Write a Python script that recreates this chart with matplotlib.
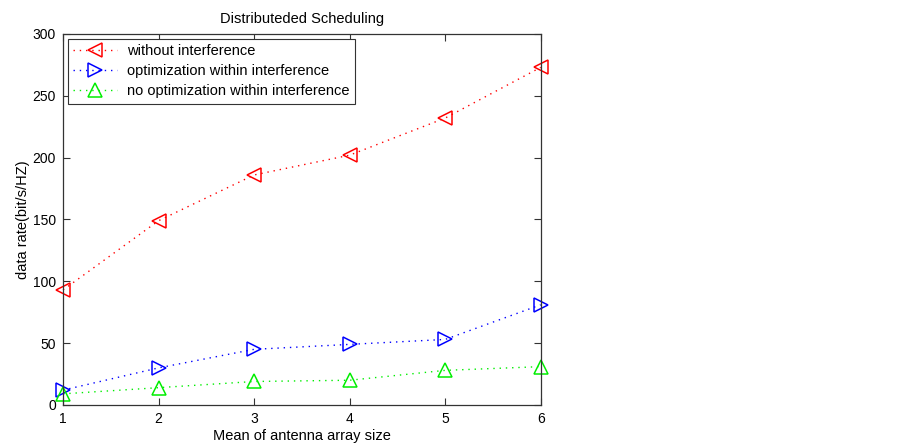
import matplotlib.pyplot as plt

plt.rcParams["font.family"] = ["Liberation Sans", "DejaVu Sans"]

# Mean antenna array size vs data rate
array_size = [1, 2, 3, 4, 5, 6]
without_interference = [93, 149, 186, 202, 232, 273]
opt_within_interference = [12, 30, 45, 49, 53, 81]
no_opt_within_interference = [9, 14, 19, 20, 28, 31]

labels = [
    "without interference",
    "optimization within interference",
    "no optimization within interference",
]

fig = plt.figure(figsize=(9.03, 4.47), dpi=100)
ax = fig.add_axes([0.0698, 0.094, 0.529, 0.830])

axis_col = "#333333"
ms = 10.5
dots = (0, (1, 3.5))
ax.plot(array_size, without_interference, linestyle=dots, color="red", marker="<",
        markersize=ms, markerfacecolor="none", markeredgewidth=1.1,
        linewidth=1.0, label=labels[0])
ax.plot(array_size, opt_within_interference, linestyle=dots, color="blue", marker=">",
        markersize=ms, markerfacecolor="none", markeredgewidth=1.1,
        linewidth=1.0, label=labels[1])
ax.plot(array_size, no_opt_within_interference, linestyle=dots, color="#00ee00",
        marker="^", markersize=ms, markerfacecolor="none", markeredgewidth=1.1,
        linewidth=1.0, label=labels[2])

ax.set_xlim(1, 6)
ax.set_ylim(0, 300)
ax.set_xticks(array_size)
ax.set_yticks(range(0, 301, 50))
ax.tick_params(direction="in", top=True, right=True, length=5,
               color=axis_col, labelsize=10, pad=5)
for sp in ax.spines.values():
    sp.set_color(axis_col)
    sp.set_linewidth(0.9)
for ln in ax.lines:
    ln.set_clip_on(False)

ax.set_title("Distributeded Scheduling", fontsize=10.5, pad=8)
ax.set_xlabel("Mean of antenna array size", fontsize=10.5, labelpad=2)
ax.set_ylabel("data rate(bit/s/HZ)", fontsize=10.5, labelpad=2)

leg = ax.legend(loc="upper left", fontsize=10.5, handlelength=3.0,
                borderaxespad=0.35, fancybox=False, framealpha=1,
                edgecolor=axis_col, borderpad=0.35, labelspacing=0.42,
                handletextpad=0.7)
leg.get_frame().set_linewidth(0.8)

fig.savefig("out.png", dpi=100)
